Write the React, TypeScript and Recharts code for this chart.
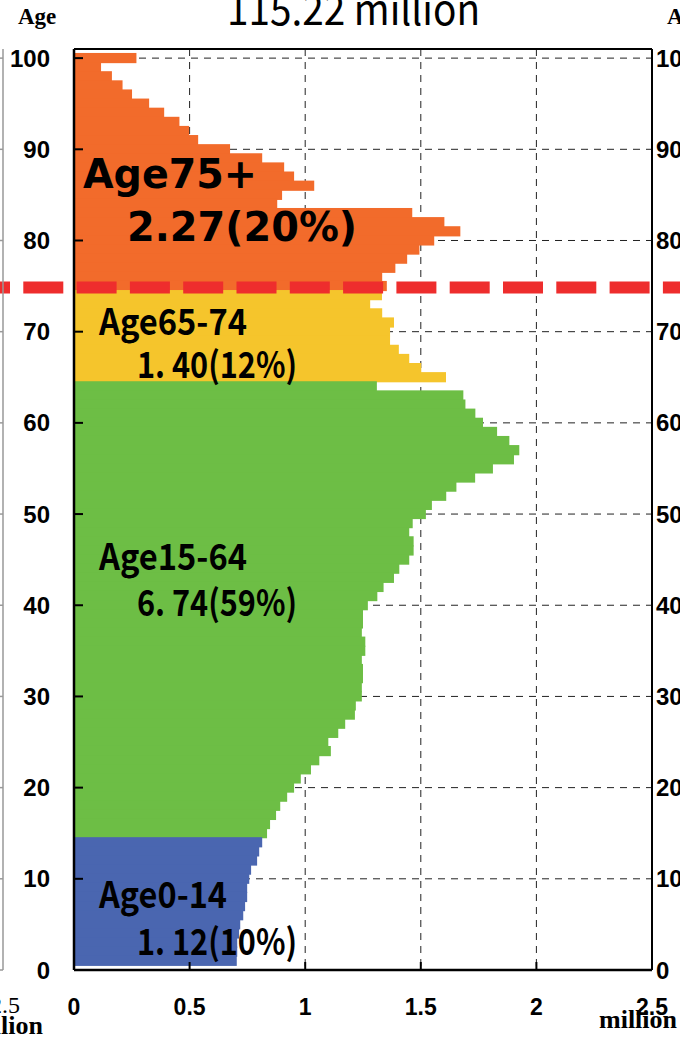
import { BarChart, Bar, Cell, XAxis, YAxis, CartesianGrid, ReferenceLine } from 'recharts'

document.body.style.margin = '0'

// population by single year of age, ages 1..100 (million)
const ages = Array.from({ length: 100 }, (_, i) => i + 1)
const population = [
  0.704, 0.706, 0.706, 0.714, 0.719, 0.732, 0.74, 0.749, 0.749, 0.758,
  0.766, 0.792, 0.801, 0.814, 0.835, 0.848, 0.874, 0.892, 0.922, 0.952,
  0.981, 1.025, 1.061, 1.111, 1.1, 1.143, 1.173, 1.215, 1.219, 1.245,
  1.245, 1.25, 1.25, 1.245, 1.26, 1.26, 1.245, 1.25, 1.25, 1.271,
  1.312, 1.339, 1.384, 1.407, 1.45, 1.469, 1.469, 1.45, 1.465, 1.522,
  1.548, 1.61, 1.654, 1.735, 1.812, 1.903, 1.926, 1.883, 1.83, 1.769,
  1.736, 1.693, 1.684, 1.31, 1.609, 1.502, 1.45, 1.405, 1.367, 1.367,
  1.384, 1.333, 1.281, 1.332, 1.353, 1.333, 1.39, 1.441, 1.494, 1.558,
  1.671, 1.602, 1.463, 0.879, 0.9, 1.039, 0.952, 0.909, 0.814, 0.675,
  0.537, 0.498, 0.456, 0.39, 0.325, 0.251, 0.21, 0.164, 0.117, 0.27,
]

const ageTicks = [0, 10, 20, 30, 40, 50, 60, 70, 80, 90, 100]
const millionTicks = [0, 0.5, 1, 1.5, 2, 2.5]

// age groups: lower bound, name and total
const groupStarts = [0, 15, 65, 75]
const groupNames = ['Age0-14', 'Age15-64', 'Age65-74', 'Age75+']
const groupTotals = ['1. 12(10%)', '6. 74(59%)', '1. 40(12%)', '2.27(20%)']
const groupColors = ['#4A66B0', '#6DBE45', '#F5C52C', '#F26B2B']

const totalLabel = '115.22 million'

const groupOf = (age: number) => {
  let g = 0
  groupStarts.forEach((s, i) => {
    if (age >= s) g = i
  })
  return g
}

// rows from top (101, empty) down to 0 (empty) so the frame sits on band centres
const rows = [
  { age: 101, value: null as number | null },
  ...ages
    .map((a, i) => ({ age: a, value: population[i] as number | null }))
    .reverse(),
  { age: 0, value: null as number | null },
]

const BAND = 921 / 101

const boldSans = 'Liberation Sans, Arial, sans-serif'
const gothic = '"Noto Sans CJK JP", sans-serif'
const serif = 'Liberation Serif, Times New Roman, serif'

function LeftTick({ x, y, payload }: any) {
  return (
    <g>
      <line x1={x} x2={x + 9} y1={y} y2={y} stroke="#000" strokeWidth={2} />
      <text x={x - 24} y={y + 8.5} textAnchor="end" fontFamily={boldSans} fontWeight="bold" fontSize={24} fill="#000">
        {payload.value}
      </text>
    </g>
  )
}

function RightTick({ x, y, payload }: any) {
  return (
    <text x={x + 4} y={y + 8.5} textAnchor="start" fontFamily={boldSans} fontWeight="bold" fontSize={24} fill="#000">
      {payload.value}
    </text>
  )
}

function BottomTick({ x, y, payload }: any) {
  return (
    <g>
      <line x1={x} x2={x} y1={y} y2={y - 8} stroke="#000" strokeWidth={2} />
      <text x={x} y={y + 45} textAnchor="middle" fontFamily={boldSans} fontWeight="bold" fontSize={23} fill="#000">
        {payload.value}
      </text>
    </g>
  )
}

// bars touch each other like a histogram
function FlushBar({ x, y, width, height, fill }: any) {
  if (!width || width <= 0) return null
  return <rect x={x} y={y - 0.6} width={width} height={height + 1.2} fill={fill} />
}

function RedDash(props: any) {
  const y = props.y1 + 1.5
  return <line x1={-30} x2={700} y1={y} y2={y} stroke="#EE2D2D" strokeWidth={12} strokeDasharray="40 13.3" />
}

function Annotations() {
  const jp = { fontFamily: gothic, fontWeight: 'bold' as const, fontSize: 36, fill: '#000', lengthAdjust: 'spacingAndGlyphs' as const }
  const heavy = { fontFamily: 'DejaVu Sans, sans-serif', fontWeight: 'bold' as const, fontSize: 40, fill: '#000', lengthAdjust: 'spacingAndGlyphs' as const }
  return (
    <svg width={680} height={1041} style={{ position: 'absolute', left: 0, top: 0, pointerEvents: 'none' }}>
      <text x={227} y={25} fontFamily={gothic} fontSize={42} textLength={253} lengthAdjust="spacingAndGlyphs" fill="#000">
        {totalLabel}
      </text>
      <text x={18} y={24} fontFamily={serif} fontWeight="bold" fontSize={23} fill="#000">Age</text>
      <text x={667} y={24} fontFamily={serif} fontWeight="bold" fontSize={23} fill="#000">Age</text>
      <text x={599} y={1028} fontFamily={serif} fontWeight="bold" fontSize={26} fill="#000">million</text>
      <text x={43} y={1034} textAnchor="end" fontFamily={serif} fontWeight="bold" fontSize={26} fill="#000">million</text>
      <text x={20} y={1013} textAnchor="end" fontFamily={serif} fontSize={24} fill="#000">2.5</text>
      <line x1={3} x2={3} y1={49} y2={970} stroke="#999" strokeWidth={1.5} />
      {ageTicks.map((t) => (
        <line key={t} x1={0} x2={3} y1={970 - t * BAND} y2={970 - t * BAND} stroke="#999" strokeWidth={1.5} />
      ))}

      <text x={83} y={188} textLength={174} {...heavy}>{groupNames[3]}</text>
      <text x={127} y={241} textLength={230} {...heavy}>{groupTotals[3]}</text>
      <text x={99} y={335} textLength={148} {...jp}>{groupNames[2]}</text>
      <text x={137} y={378} textLength={160} {...jp}>{groupTotals[2]}</text>
      <text x={99} y={570} textLength={148} {...jp}>{groupNames[1]}</text>
      <text x={137} y={616} textLength={160} {...jp}>{groupTotals[1]}</text>
      <text x={99} y={908} textLength={128} {...jp}>{groupNames[0]}</text>
      <text x={137} y={955} textLength={160} {...jp}>{groupTotals[0]}</text>
    </svg>
  )
}

export default function App() {
  return (
    <div style={{ position: 'relative', width: 680, height: 1041, background: '#fff', overflow: 'hidden' }}>
      <BarChart
        width={680}
        height={1041}
        data={rows}
        layout="vertical"
        margin={{ top: 49, right: 0, bottom: 0, left: 14 }}
        barCategoryGap={0}
      >
        <CartesianGrid stroke="#222" strokeDasharray="7 6" />
        <XAxis
          type="number"
          domain={[0, 2.5]}
          ticks={millionTicks}
          interval={0}
          height={71}
          tickSize={0}
          tickMargin={0}
          tickLine={false}
          tick={<BottomTick />}
          axisLine={{ stroke: '#000', strokeWidth: 2.5 }}
        />
        <YAxis
          type="category"
          dataKey="age"
          width={60}
          ticks={ageTicks}
          interval={0}
          padding={{ top: -BAND / 2, bottom: -BAND / 2 }}
          tickSize={0}
          tickMargin={0}
          tickLine={false}
          tick={<LeftTick />}
          axisLine={{ stroke: '#000', strokeWidth: 2.5 }}
        />
        <YAxis
          yAxisId="r"
          orientation="right"
          type="category"
          dataKey="age"
          width={28}
          ticks={ageTicks}
          interval={0}
          padding={{ top: -BAND / 2, bottom: -BAND / 2 }}
          tickSize={0}
          tickMargin={0}
          tickLine={false}
          tick={<RightTick />}
          axisLine={{ stroke: '#000', strokeWidth: 2 }}
        />
        <Bar dataKey="value" isAnimationActive={false} shape={<FlushBar />}>
          {rows.map((r) => (
            <Cell key={r.age} fill={groupColors[groupOf(r.age)]} />
          ))}
        </Bar>
        <ReferenceLine y={101} stroke="#000" strokeWidth={2} />
        <ReferenceLine y={75} shape={<RedDash />} />
      </BarChart>
      <Annotations />
    </div>
  )
}
